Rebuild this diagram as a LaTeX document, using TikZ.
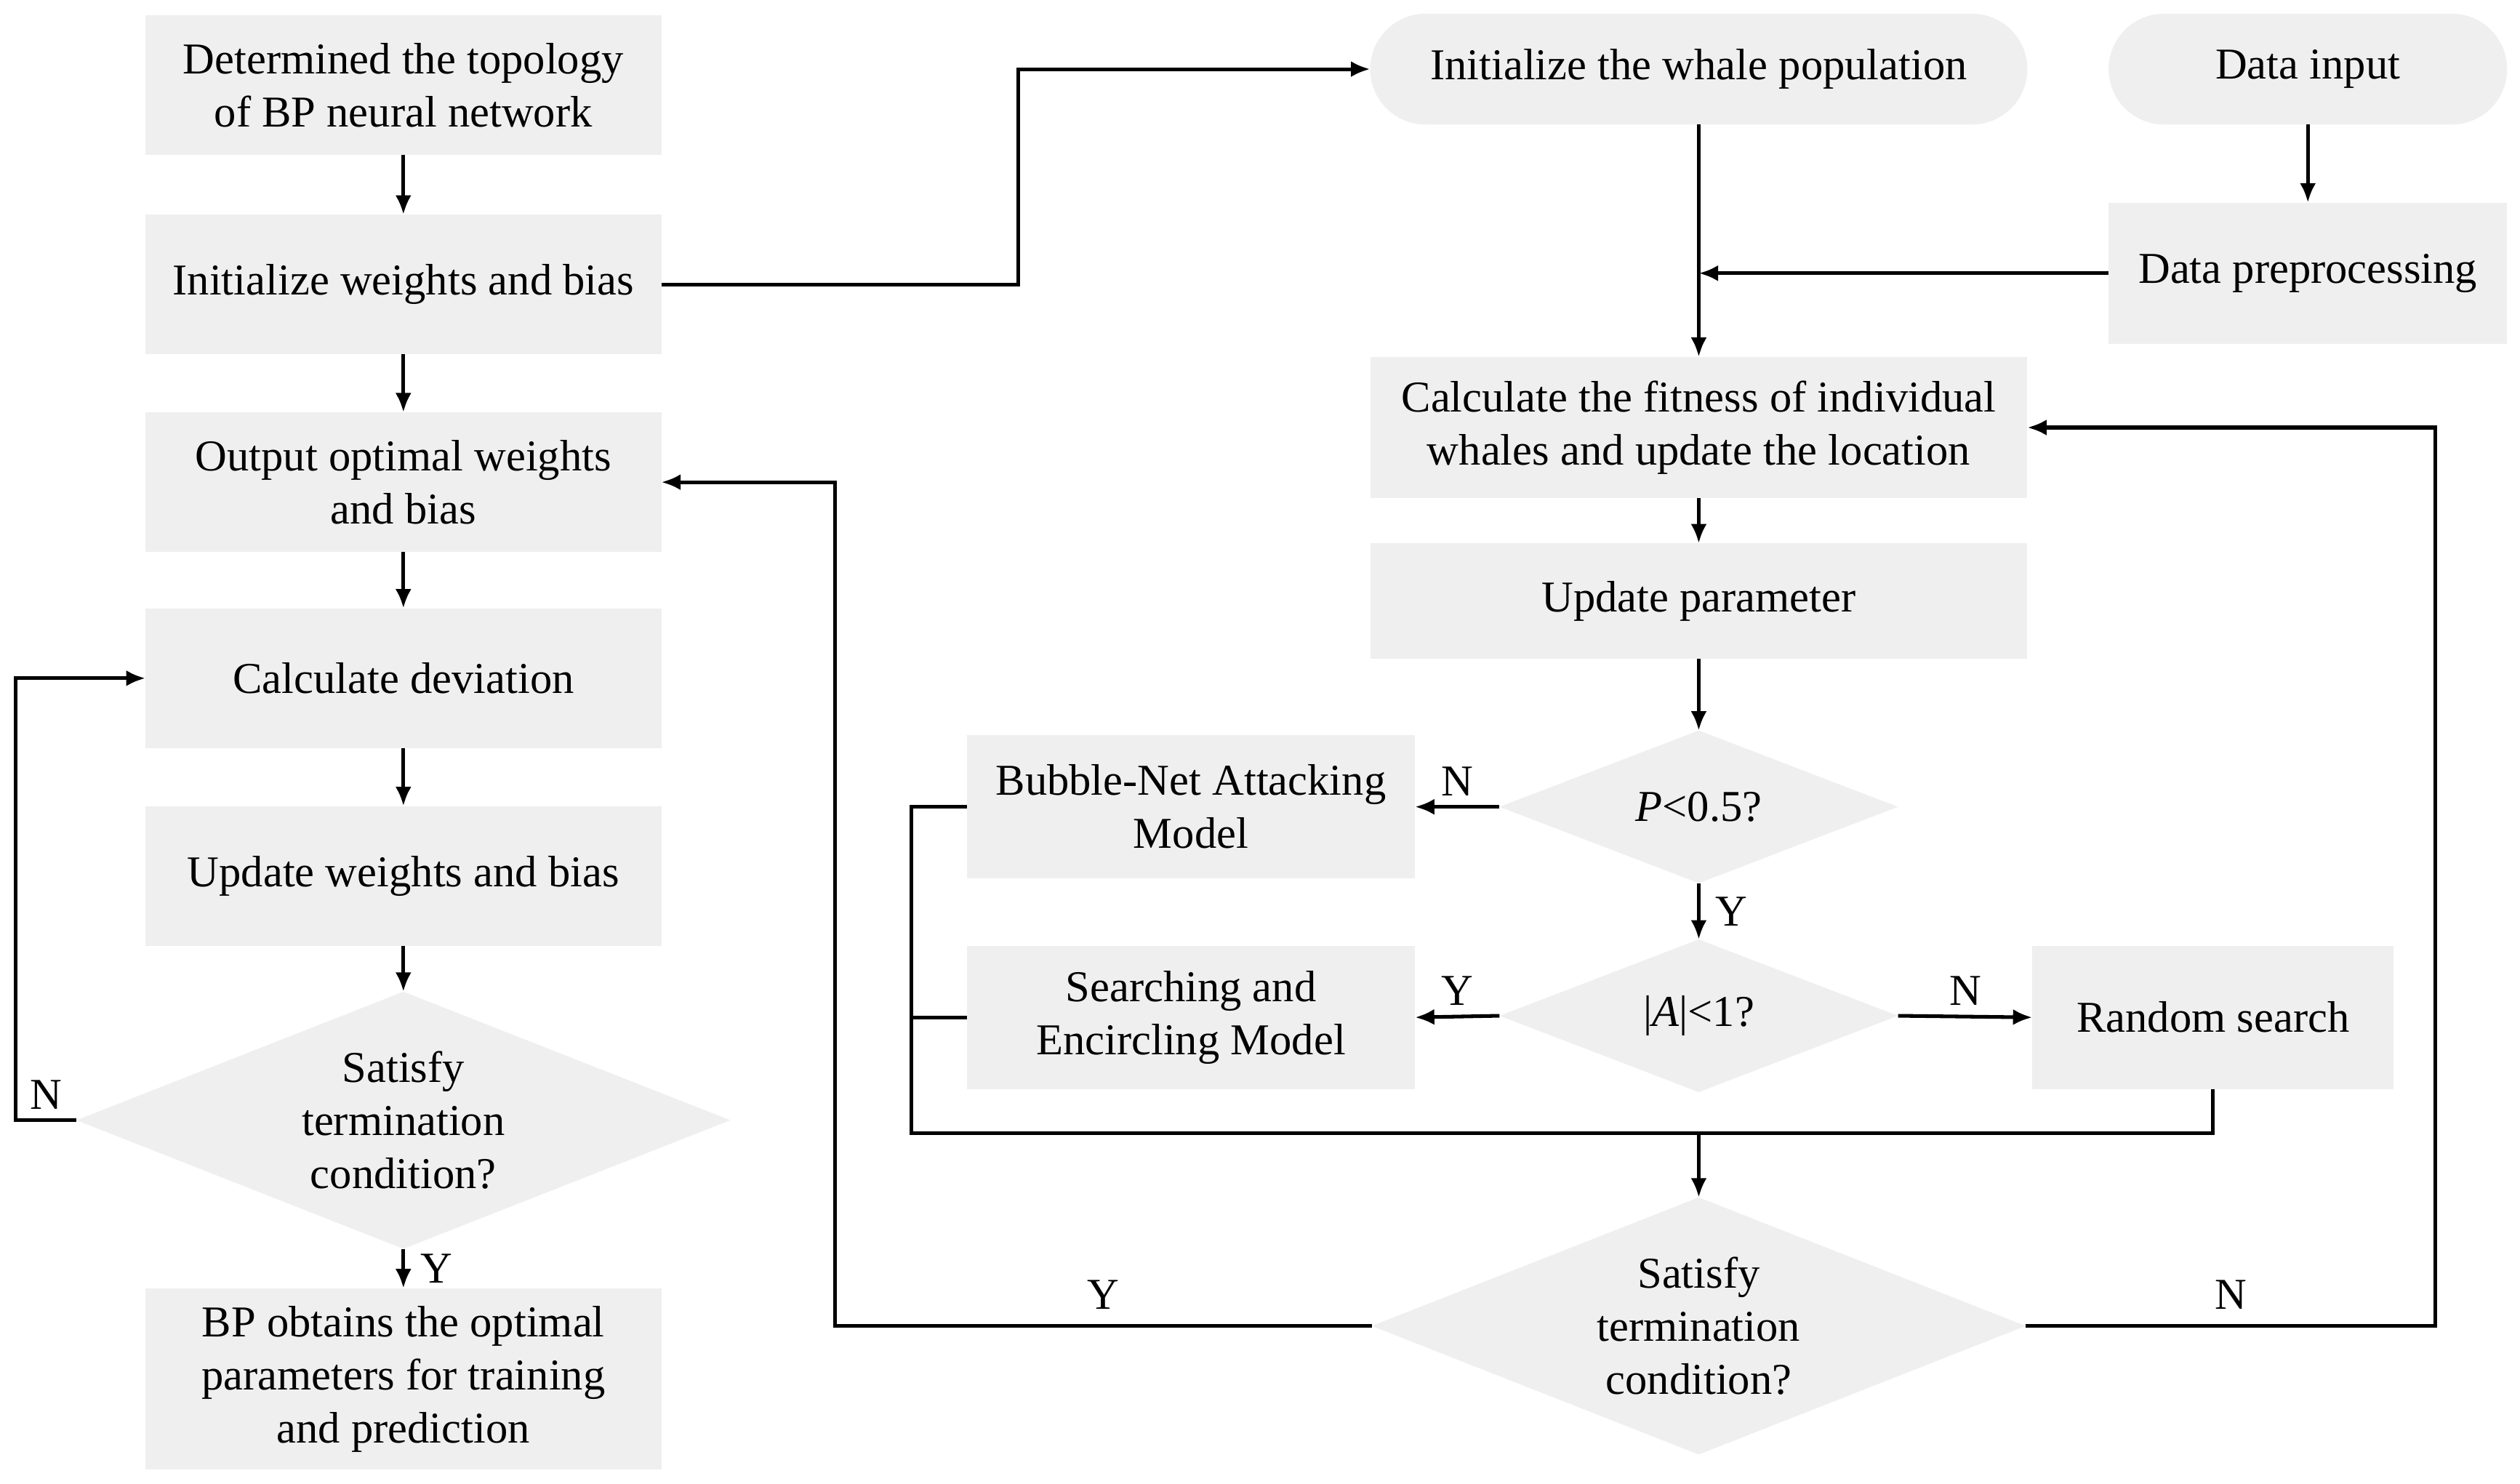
\documentclass[tikz,border=0pt]{standalone}
\usepackage{fontspec}
\setmainfont{Liberation Serif}
\usetikzlibrary{shapes.geometric,arrows.meta}
\definecolor{boxgray}{RGB}{239,239,239}

\begin{document}
\begin{tikzpicture}[x=0.02cm, y=-0.02cm,
  every node/.style={font=\fontsize{15.6}{18.8}\selectfont, align=center, inner sep=0pt, outer sep=0pt},
  box/.style={fill=boxgray, minimum width=6.42cm, minimum height=1.74cm},
  term/.style={fill=boxgray, rounded corners=0.69cm, minimum height=1.38cm},
  decision/.style={diamond, fill=boxgray, shape aspect=2.5, minimum width=8.14cm, minimum height=3.2cm},
  lbl/.style={inner sep=4pt},
  line/.style={line width=1.3pt},
  arr/.style={line width=1.3pt, -{Latex[length=2.4mm,width=2mm]}}]
\useasboundingbox (0,0) rectangle (1568,923.3);

% BP network column
\node[box] (topo) at (251,53) {Determined the topology\\of BP neural network};
\node[box] (init) at (251,177) {Initialize weights and bias};
\node[box] (out) at (251,300) {Output optimal weights\\and bias};
\node[box] (dev) at (251,422) {Calculate deviation};
\node[box] (upd) at (251,545) {Update weights and bias};
\node[decision] (stopl) at (251,697) {Satisfy\\termination\\condition?};
\node[box, minimum height=2.26cm] (bp) at (251,858) {BP obtains the optimal\\parameters for training\\and prediction};

% whale optimization part
\node[term, minimum width=8.18cm] (pop) at (1057,43) {Initialize the whale population};
\node[term, minimum width=4.96cm] (input) at (1436,43) {Data input};
\node[box, minimum width=4.96cm, minimum height=1.76cm] (prep) at (1436,170) {Data preprocessing};
\node[box, minimum width=8.18cm, minimum height=1.76cm] (fit) at (1057,266) {Calculate the fitness of individual\\whales and update the location};
\node[box, minimum width=8.18cm, minimum height=1.44cm] (par) at (1057,374) {Update parameter};
\node[decision, shape aspect=2.6, minimum width=4.96cm, minimum height=1.9cm] (pq) at (1057,502) {\textit{P}<0.5?};
\node[box, minimum width=5.58cm, minimum height=1.78cm] (bub) at (741,502) {Bubble-Net Attacking\\Model};
\node[decision, shape aspect=2.6, minimum width=4.96cm, minimum height=1.9cm] (aq) at (1057,632) {|\textit{A}|<1?};
\node[box, minimum width=5.58cm, minimum height=1.78cm] (enc) at (741,633) {Searching and\\Encircling Model};
\node[box, minimum width=4.5cm, minimum height=1.78cm] (rnd) at (1377,633) {Random search};
\node[decision] (stopr) at (1057,825) {Satisfy\\termination\\condition?};

\coordinate (mergel) at (567,705);
\coordinate (merge) at (1057,705);

% connectors
\draw[arr] (topo) -- (init);
\draw[arr] (init) -- (out);
\draw[arr] (out) -- (dev);
\draw[arr] (dev) -- (upd);
\draw[arr] (upd) -- (stopl);
\draw[arr] (stopl) -- node[lbl, right, xshift=2pt] (yl) {Y} (bp);
\draw[arr] (stopl.west) -- node[lbl, above] (nl) {N} ++(-38,0) |- (dev.west);

\draw[arr] (init.east) -- ++(222,0) |- (pop.west);
\draw[arr] (pop) -- (fit);
\draw[arr] (input) -- (prep);
\draw[arr] (prep.west) -- (prep.west -| pop.south);
\draw[arr] (fit) -- (par);
\draw[arr] (par) -- (pq);
\draw[arr] (pq.west) -- node[lbl, above] (np) {N} (bub.east);
\draw[arr] (pq) -- node[lbl, right, xshift=2pt] (yp) {Y} (aq);
\draw[arr] (aq.west) -- node[lbl, above] (ya) {Y} (enc.east);
\draw[arr] (aq.east) -- node[lbl, above] (na) {N} (rnd.west);

\draw[line] (bub.west) -| (mergel) -| (rnd.south);
\draw[line] (enc.west) -| (mergel);
\draw[arr] (merge) -- (stopr);

\draw[arr] (stopr.west) -- node[lbl, above, yshift=2pt] (yr) {Y} ++(-334,0) |- (out.east);
\draw[arr] (stopr.east) -- node[lbl, above, yshift=2pt] (nr) {N} ++(255,0) |- (fit.east);
\end{tikzpicture}
\end{document}
